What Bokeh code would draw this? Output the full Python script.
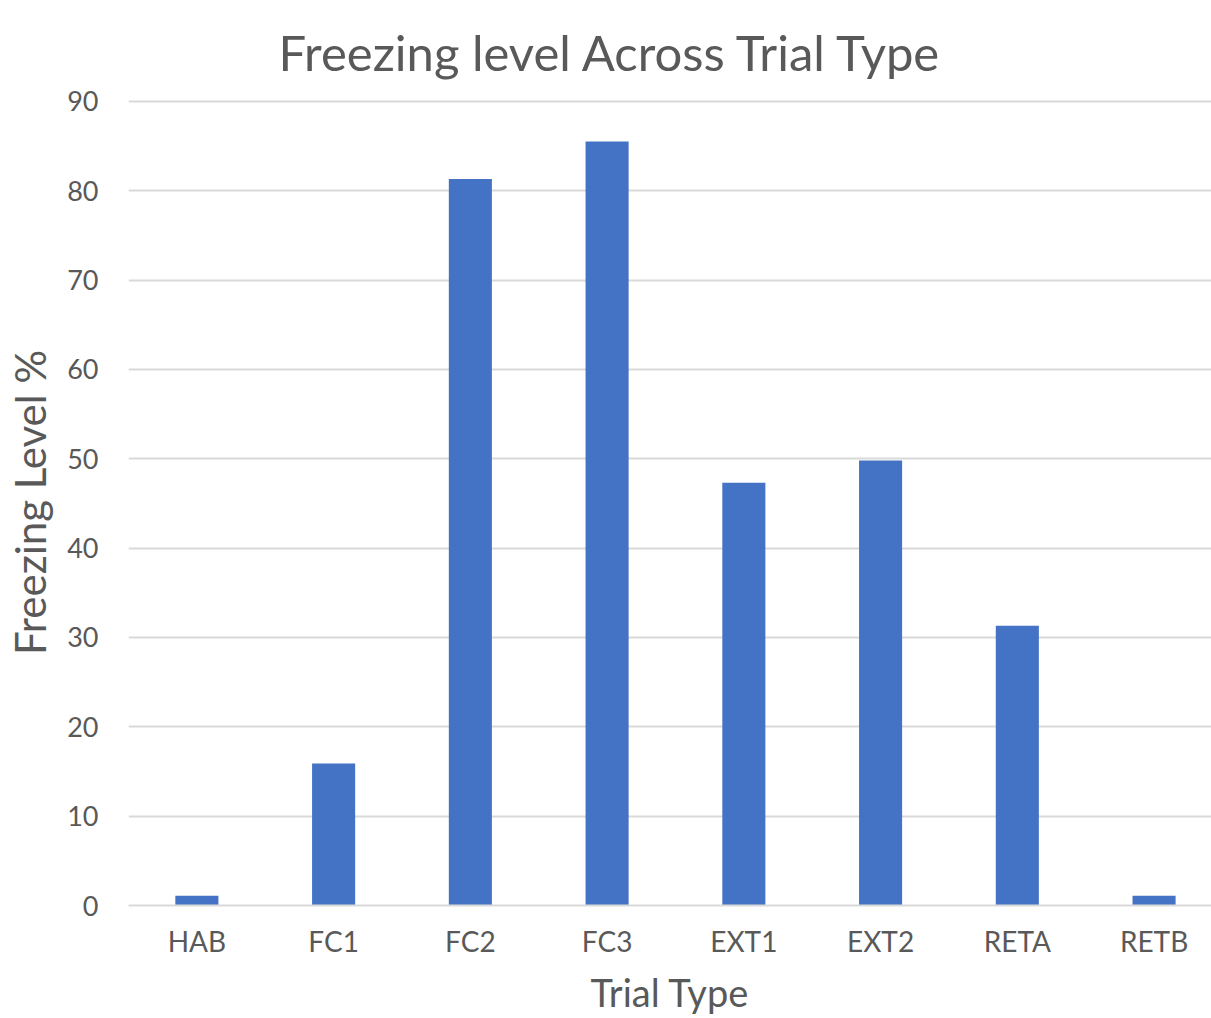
from bokeh.plotting import figure
from bokeh.models import FixedTicker, Range1d
from bokeh.embed import file_html
from bokeh.resources import INLINE

# Freezing level per trial type
trial_types = ["HAB", "FC1", "FC2", "FC3", "EXT1", "EXT2", "RETA", "RETB"]
freezing_pct = [1.1, 15.9, 81.3, 85.5, 47.3, 49.8, 31.3, 1.1]
y_ticks = [0, 10, 20, 30, 40, 50, 60, 70, 80, 90]
chart_title = "Freezing level Across Trial Type"

FONT = "Lato"
TEXT = "#595959"
BAR = "#4472C4"
GRID = "#D9D9D9"

x_pos = [i + 0.5 for i in range(len(trial_types))]

p = figure(
    width=1211, height=1018,
    output_backend="svg", toolbar_location=None,
    x_range=Range1d(0, 7.92), y_range=Range1d(0, 90.2),
    title=chart_title,
    min_border_left=128, min_border_right=0,
    min_border_top=99, min_border_bottom=113,
)

p.vbar(x=x_pos, top=freezing_pct, width=0.315, color=BAR, line_color=None)

# title centred on the canvas, lifted away from the frame
p.title.align = "left"
p.title.offset = 150
p.title.standoff = 38
p.title.text_font = FONT
p.title.text_font_style = "normal"
p.title.text_font_size = "49px"
p.title.text_color = TEXT

p.outline_line_color = None

# x axis: one tick per trial type
p.xaxis.ticker = FixedTicker(ticks=x_pos)
p.xaxis.major_label_overrides = {x: t for x, t in zip(x_pos, trial_types)}
p.xaxis.axis_label = "Trial Type"
p.xaxis.axis_line_color = GRID
p.xaxis.axis_line_width = 2
p.xaxis.major_label_standoff = 18
p.xaxis.axis_label_standoff = 8
p.xaxis.major_label_text_font_size = "28px"
p.xaxis.axis_label_text_font_size = "38px"

# y axis
p.yaxis.ticker = FixedTicker(ticks=y_ticks)
p.yaxis.axis_label = "Freezing Level %"
p.yaxis.axis_line_color = None
p.yaxis.major_label_standoff = 30
p.yaxis.axis_label_standoff = 9
p.yaxis.major_label_text_font_size = "27px"
p.yaxis.axis_label_text_font_size = "42px"

for ax in (p.xaxis, p.yaxis):
    ax.major_tick_line_color = None
    ax.minor_tick_line_color = None
    ax.major_tick_out = 0
    ax.major_tick_in = 0
    ax.minor_tick_out = 0
    ax.minor_tick_in = 0
    ax.major_label_text_font = FONT
    ax.major_label_text_color = TEXT
    ax.axis_label_text_font = FONT
    ax.axis_label_text_font_style = "normal"
    ax.axis_label_text_color = TEXT

p.xgrid.grid_line_color = None
p.ygrid.grid_line_color = GRID
p.ygrid.grid_line_width = 2

open("out.html", "w").write(file_html(p, INLINE))
